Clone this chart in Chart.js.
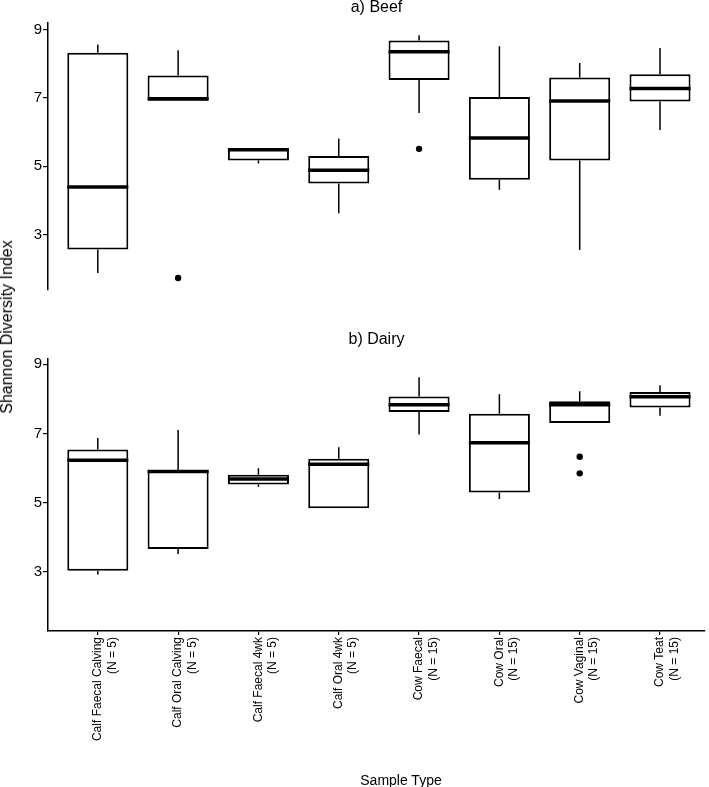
<!DOCTYPE html>
<html>
<head>
<meta charset="utf-8">
<script src="https://cdn.jsdelivr.net/npm/chart.js@4.4.1/dist/chart.umd.min.js"></script>
<style>
  body { margin: 0; background: #fff; }
  #wrap { position: relative; width: 709px; height: 787px; font-family: "Liberation Sans", Arial, sans-serif; color: #000; }
  #beef { position: absolute; left: 0; top: 0; }
  #dairy { position: absolute; left: 0; top: 300px; }
  .ytitle { position: absolute; left: 7px; top: 327px; transform: translate(-50%, -50%) rotate(-90deg); font-size: 16px; white-space: nowrap; }
  .xtitle { position: absolute; left: 401px; top: 780px; transform: translate(-50%, -50%); font-size: 14px; white-space: nowrap; }
</style>
</head>
<body>
<div id="wrap">
  <canvas id="beef" width="709" height="300"></canvas>
  <canvas id="dairy" width="709" height="487"></canvas>
  <div class="ytitle">Shannon Diversity Index</div>
  <div class="xtitle">Sample Type</div>
</div>
<script>
// sample types (two-line tick labels)
const categories = [
  ["Calf Faecal Calving", "(N = 5)"],
  ["Calf Oral Calving", "(N = 5)"],
  ["Calf Faecal 4wk", "(N = 5)"],
  ["Calf Oral 4wk", "(N = 5)"],
  ["Cow Faecal", "(N = 15)"],
  ["Cow Oral", "(N = 15)"],
  ["Cow Vaginal", "(N = 15)"],
  ["Cow Teat", "(N = 15)"]
];
const yTicks = [3, 5, 7, 9];

// a) Beef
const beefMin    = [1.87, 6.92, 5.08, 3.62, 6.56, 4.31, 2.54, 6.06];
const beefQ1     = [2.56, 6.92, 5.17, 4.49, 7.53, 4.60, 5.17, 6.90];
const beefMedian = [4.39, 6.98, 5.48, 4.88, 8.36, 5.83, 6.91, 7.28];
const beefQ3     = [8.33, 7.66, 5.53, 5.30, 8.69, 7.03, 7.60, 7.70];
const beefMax    = [8.57, 8.40, 5.53, 5.81, 8.84, 8.52, 8.03, 8.47];
const beefOutlierIndex = [1, 4];
const beefOutlierValue = [1.72, 5.51];

// b) Dairy
const dairyMin    = [2.93, 3.52, 5.46, 4.84, 6.97, 5.11, 7.30, 7.51];
const dairyQ1     = [3.04, 3.67, 5.53, 4.84, 7.62, 5.30, 7.30, 7.75];
const dairyMedian = [6.23, 5.90, 5.69, 6.11, 7.83, 6.73, 7.83, 8.06];
const dairyQ3     = [6.54, 5.94, 5.81, 6.27, 8.07, 7.57, 7.93, 8.20];
const dairyMax    = [6.87, 7.10, 6.00, 6.60, 8.62, 8.13, 8.22, 8.39];
const dairyOutlierIndex = [6, 6];
const dairyOutlierValue = [6.33, 5.85];

Chart.defaults.font.family = "'Liberation Sans', Arial, sans-serif";
Chart.defaults.color = "#000";

function makeChart(id, title, mins, q1s, medians, q3s, maxs, outIdx, outVal, showX, yMin, yMax, layoutPad, titlePad) {
  // whiskers go under the boxes, medians on top
  const boxPlugin = {
    id: "boxWhiskers",
    beforeDatasetsDraw(chart) {
      const ctx = chart.ctx;
      const x = chart.scales.x;
      const y = chart.scales.y;
      ctx.save();
      ctx.strokeStyle = "#000";
      ctx.lineWidth = 1.5;
      mins.forEach(function (v, i) {
        const px = x.getPixelForValue(i);
        ctx.beginPath();
        if (maxs[i] > q3s[i]) {
          ctx.moveTo(px, y.getPixelForValue(q3s[i]));
          ctx.lineTo(px, y.getPixelForValue(maxs[i]));
        }
        if (v < q1s[i]) {
          ctx.moveTo(px, y.getPixelForValue(q1s[i]));
          ctx.lineTo(px, y.getPixelForValue(v));
        }
        ctx.stroke();
      });
      ctx.restore();
    },
    afterDatasetsDraw(chart) {
      const ctx = chart.ctx;
      const y = chart.scales.y;
      const meta = chart.getDatasetMeta(0);
      ctx.save();
      ctx.strokeStyle = "#000";
      ctx.lineWidth = 3.5;
      meta.data.forEach(function (bar, i) {
        const half = bar.width / 2;
        const py = y.getPixelForValue(medians[i]);
        ctx.beginPath();
        ctx.moveTo(bar.x - half, py);
        ctx.lineTo(bar.x + half, py);
        ctx.stroke();
      });
      ctx.restore();
    }
  };

  const boxes = q1s.map(function (q1, i) {
    return { x: i, y: [q1, q3s[i]] };
  });
  const outliers = outIdx.map(function (idx, i) {
    return { x: idx, y: outVal[i] };
  });

  return new Chart(document.getElementById(id), {
    type: "bar",
    data: {
      datasets: [
        {
          data: boxes,
          backgroundColor: "#fff",
          borderColor: "#000",
          borderWidth: 2,
          borderSkipped: false,
          barPercentage: 0.76,
          categoryPercentage: 1
        },
        {
          type: "scatter",
          data: outliers,
          pointRadius: 3.2,
          pointBackgroundColor: "#000",
          pointBorderWidth: 0
        }
      ]
    },
    options: {
      responsive: false,
      devicePixelRatio: 1,
      animation: false,
      layout: { padding: layoutPad },
      plugins: {
        legend: { display: false },
        tooltip: { enabled: false },
        title: {
          display: true,
          text: title,
          fullSize: false,
          color: "#000",
          font: { size: 16, weight: "normal", lineHeight: 0.95 },
          padding: titlePad
        }
      },
      scales: {
        x: {
          type: "linear",
          min: -0.62,
          max: 7.56,
          offset: false,
          display: showX,
          afterBuildTicks: function (scale) {
            scale.ticks = categories.map(function (c, i) { return { value: i }; });
          },
          afterFit: function (scale) {
            if (showX) scale.height = 156;
          },
          ticks: {
            autoSkip: false,
            minRotation: 90,
            maxRotation: 90,
            padding: 2,
            font: { size: 12 },
            callback: function (value) {
              return categories[value];
            }
          },
          grid: {
            display: true,
            offset: false,
            drawOnChartArea: false,
            drawTicks: true,
            tickLength: 4,
            color: "#000",
            lineWidth: 1.2
          },
          border: { display: true, color: "#000", width: 1.5 }
        },
        y: {
          min: yMin,
          max: yMax,
          afterBuildTicks: function (scale) {
            scale.ticks = yTicks.map(function (v) { return { value: v }; });
          },
          afterFit: function (scale) {
            scale.width = 48;
          },
          ticks: { padding: 1, font: { size: 15 } },
          grid: {
            display: true,
            drawOnChartArea: false,
            drawTicks: true,
            tickLength: 5,
            color: "#000",
            lineWidth: 1.2
          },
          border: { display: true, color: "#000", width: 1.5 }
        }
      }
    },
    plugins: [boxPlugin]
  });
}

makeChart("beef", "a) Beef", beefMin, beefQ1, beefMedian, beefQ3, beefMax,
  beefOutlierIndex, beefOutlierValue, false, 1.37, 9.2,
  { top: 0, right: 1, bottom: 5, left: 0 }, { top: 0, bottom: 7.8 });

makeChart("dairy", "b) Dairy", dairyMin, dairyQ1, dairyMedian, dairyQ3, dairyMax,
  dairyOutlierIndex, dairyOutlierValue, true, 1.3, 9.15,
  { top: 32.4, right: 1, bottom: 0, left: 0 }, { top: 0, bottom: 11.4 });
</script>
</body>
</html>
